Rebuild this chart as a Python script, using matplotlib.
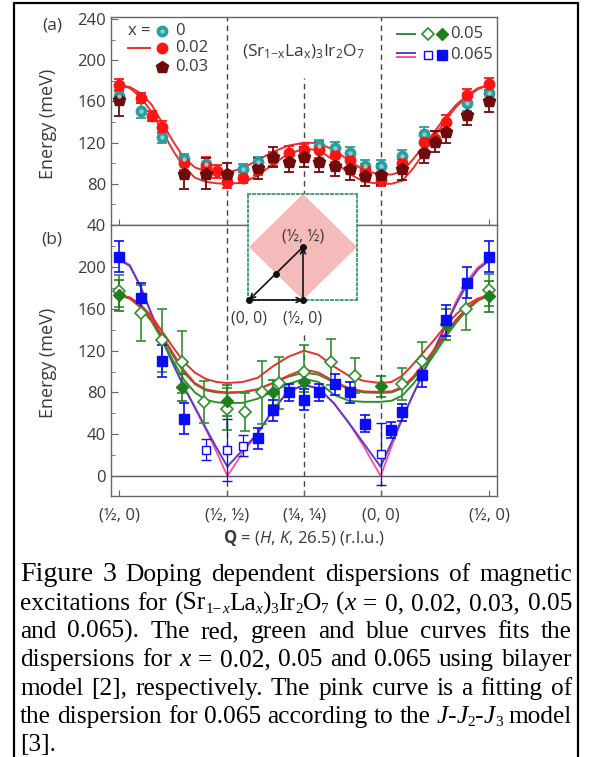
import matplotlib
matplotlib.use('Agg')
import matplotlib.pyplot as plt
from matplotlib.patches import Polygon, Rectangle

# ---------------- data ----------------
path_ticks = [0.0, 0.5, 0.854, 1.207, 1.707]
path_labels = ['(½, 0)', '(½, ½)', '(¼, ¼)', '(0, 0)', '(½, 0)']

# panel (a) measured points
q_x0 = [0, 0.1, 0.2, 0.3, 0.4, 0.571, 0.641, 0.924, 0.995, 1.066, 1.136, 1.207, 1.307, 1.407, 1.607, 1.707]
E_x0 = [165, 151, 125, 104, 99, 94, 101, 117, 115, 110, 97, 97, 107, 128, 158, 168]
err_x0 = [6, 7, 5, 5, 6, 5, 5, 6, 6, 6, 6, 6, 6, 7, 7, 6]

q_x2 = [0, 0.1, 0.15, 0.2, 0.3, 0.4, 0.45, 0.5, 0.571, 0.641, 0.712, 0.783, 0.854, 0.924, 0.995,
        1.066, 1.136, 1.207, 1.307, 1.407, 1.457, 1.507, 1.607, 1.707]
E_x2 = [176, 163, 146, 135, 100, 96, 92, 82, 86, 94, 104, 110, 113, 113, 108,
        103, 93, 84, 100, 121, 124, 140, 166, 177]
err_x2 = [6, 5, 5, 6, 7, 10, 6, 6, 5, 5, 7, 7, 6, 8, 7, 8, 6, 6, 8, 8, 7, 7, 6, 6]

q_x3 = [0, 0.3, 0.4, 0.5, 0.641, 0.712, 0.783, 0.854, 0.924, 0.995, 1.066, 1.136, 1.207, 1.307,
        1.407, 1.457, 1.507, 1.607, 1.707]
E_x3 = [161, 90, 90, 90, 95, 106, 101, 106, 101, 97.5, 94, 88, 89, 94, 110, 121, 130, 147, 160]
err_x3 = [15, 15, 15, 10, 10, 10, 10, 10, 10, 10, 10, 10, 10, 10, 10, 10, 10, 10, 10]

# fitted curves, read along the path
q_fit = [0, 0.05, 0.1, 0.15, 0.2, 0.25, 0.3, 0.35, 0.4, 0.45, 0.5, 0.57, 0.64, 0.71, 0.78, 0.854,
         0.92, 0.99, 1.06, 1.13, 1.207, 1.257, 1.307, 1.357, 1.407, 1.457, 1.507, 1.557, 1.607, 1.657, 1.707]
a_red_up = [176, 174, 168, 157, 139, 121, 105, 96, 92, 90.5, 91, 95, 103, 111, 117, 120,
            119.5, 113, 103, 93, 89, 89, 92, 104, 117, 131, 145, 157, 166, 173, 176]
a_red_lo = [176, 173, 164, 150, 131, 112, 96, 86, 82, 80.5, 80, 81, 88, 99, 109, 114,
            113, 103, 90, 82, 80, 80, 83, 95, 110, 126, 142, 155, 165, 172, 176]

# panel (b) measured points
q_b_fill = [0, 0.1, 0.2, 0.3, 0.641, 0.712, 0.783, 0.854, 0.924, 0.995, 1.066, 1.136, 1.257, 1.307,
            1.4, 1.507, 1.607, 1.707]
E_b_fill = [210, 170, 110, 55, 36, 63, 80, 73, 80, 88, 80, 50, 44, 61, 97, 149, 185, 210]
err_b_fill = [15, 15, 15, 15, 10, 10, 8, 10, 8, 10, 10, 8, 8, 8, 12, 15, 15, 15]

q_b_open = [0.4, 0.5, 0.571, 1.207]
E_b_open = [25, 25, 29, 21]
err_b_open = [10, 30, 10, 30]

q_g_fill = [0, 0.29, 0.5, 0.712, 0.854, 1.207, 1.507, 1.707]
E_g_fill = [173, 85, 72, 80, 90, 86, 145, 172]
err_g_fill = [15, 13, 15, 12, 10, 10, 15, 15]

q_g_open = [0, 0.1, 0.2, 0.29, 0.39, 0.5, 0.58, 0.66, 0.74, 0.854, 0.98, 1.09, 1.305, 1.40, 1.60, 1.707]
E_g_open = [177, 156, 130, 109, 71, 64, 61, 80, 89, 100, 109, 96, 88, 110, 160, 178]
err_g_open = [15, 27, 30, 30, 20, 20, 18, 30, 25, 25, 22, 17, 15, 18, 20, 15]

b_red_up = [173, 171, 164, 153, 138, 123, 109, 99, 93, 90, 89, 90, 94, 105, 114, 120,
            116, 105, 96, 91, 89, 90, 96, 107, 119, 131, 144, 155, 164, 170, 173]
b_red_lo = [173, 170, 162, 150, 134, 117, 101, 89, 83, 81, 80, 80.5, 83, 89, 96, 102,
            99, 91, 84, 81, 80.5, 81, 85, 95, 108, 122, 137, 150, 161, 169, 173]
b_grn_up = [173, 170, 162, 150, 133, 115, 99, 88, 82, 80, 79.5, 80, 83, 89, 95, 99,
            97, 90, 83, 80, 79.5, 80, 84, 93, 106, 120, 135, 149, 160, 168, 173]
b_grn_lo = [173, 170, 161, 148, 130, 110, 92, 80, 73, 70.5, 70, 70, 74, 81, 88, 93,
            90, 78, 72, 71, 71, 72, 77, 88, 102, 117, 133, 147, 159, 168, 173]
b_blue = [207, 201, 181, 155, 130, 107, 85, 66, 46, 27, 9, 25, 41, 63, 81, 87,
          84, 70, 51, 31, 9, 32, 55, 78, 100, 122, 144, 165, 184, 198, 206]
b_pink = [208, 202, 181, 155, 130, 107, 85, 65, 45, 23, 0, 22, 41, 63, 81, 87,
          84, 70, 51, 28, 0, 28, 55, 78, 100, 122, 144, 168, 187, 200, 207]

# ---------------- style ----------------
W, H = 591, 757
SANS = 'Open Sans'
SERIF = 'Liberation Serif'
plt.rcParams['font.family'] = [SANS, 'DejaVu Sans']
plt.rcParams['mathtext.fontset'] = 'custom'
plt.rcParams['mathtext.rm'] = SANS
plt.rcParams['mathtext.it'] = SANS + ':italic'
plt.rcParams['mathtext.bf'] = SANS + ':bold'

TXT = '#3a3a3a'
SP = '#666666'
C_RED_LINE = '#e8302a'
C_RED = '#ff1414'
C_DRED = '#6e0a0a'
C_TEAL = '#2c9c9c'
C_TEAL_HI = '#86d2d2'
C_GRN = '#2f8f2f'
C_GRNM = '#1f7f1f'
C_BLUE = '#0a0aff'
C_BLUEL = '#5a3cc8'
C_PINK = '#ff4fa0'

fig = plt.figure(figsize=(W / 100, H / 100), dpi=100)


def fx(px):
    return px / W


def fy(py):
    return 1 - py / H


ax_a = fig.add_axes([fx(111), fy(225), 386 / W, 208 / H])
ax_b = fig.add_axes([fx(111), fy(496), 386 / W, 271 / H])

for ax in (ax_a, ax_b):
    ax.set_xlim(-0.037, 1.744)
    for s in ax.spines.values():
        s.set_color(SP)
        s.set_linewidth(1.0)
    ax.set_xticks(path_ticks)
    ax.tick_params(axis='both', which='both', direction='in', colors=SP,
                   labelcolor=TXT, labelsize=12, right=False, top=False)
    ax.tick_params(axis='y', which='major', length=5)
    ax.tick_params(axis='y', which='minor', length=3)
    ax.tick_params(axis='x', length=4)

ax_a.set_ylim(40, 242)
ax_a.set_yticks([40, 80, 120, 160, 200, 240])
ax_a.set_yticks(range(60, 241, 40), minor=True)
ax_a.set_xticklabels([])

ax_b.set_ylim(-19.1, 240.2)
ax_b.set_yticks([0, 40, 80, 120, 160, 200])
ax_b.set_yticks(range(20, 240, 40), minor=True)
ax_b.set_xticklabels(path_labels)
ax_b.tick_params(axis='x', pad=8)

dash = (0, (4, 3))
for q in (0.5, 1.207):
    ax_a.axvline(q, color='#444444', lw=1.0, ls=dash, zorder=1)
    ax_b.axvline(q, color='#444444', lw=1.0, ls=dash, zorder=1)
ax_a.vlines(0.854, 40, 183, color='#444444', lw=1.0, ls=dash, zorder=1)
ax_b.vlines(0.854, -19.1, 137, color='#444444', lw=1.0, ls=dash, zorder=1)
ax_b.axhline(0, color='#555555', lw=1.0, zorder=1)

# ---- panel (a) ----
ax_a.plot(q_fit, a_red_up, color=C_RED_LINE, lw=1.4, zorder=2)
ax_a.plot(q_fit, a_red_lo, color=C_RED_LINE, lw=1.4, zorder=2)
eb = dict(capsize=3.5, elinewidth=1.3, capthick=1.3, zorder=3)
ax_a.errorbar(q_x0, E_x0, yerr=err_x0, fmt='o', color=C_TEAL, ms=7.5, **eb)
ax_a.plot(q_x0, E_x0, 'o', color=C_TEAL_HI, ms=2.2, zorder=4)
ax_a.errorbar(q_x2, E_x2, yerr=err_x2, fmt='o', color=C_RED, ms=7.5, **eb)
ax_a.errorbar(q_x3, E_x3, yerr=err_x3, fmt='p', color=C_DRED, ms=9, **eb)

# ---- panel (b) ----
ax_b.plot(q_fit, b_pink, color=C_PINK, lw=1.3, zorder=2)
ax_b.plot(q_fit, b_blue, color=C_BLUEL, lw=1.4, zorder=2)
ax_b.plot(q_fit, b_grn_up, color=C_GRN, lw=1.4, zorder=2)
ax_b.plot(q_fit, b_grn_lo, color=C_GRN, lw=1.4, zorder=2)
ax_b.plot(q_fit, b_red_up, color=C_RED_LINE, lw=1.4, zorder=2)
ax_b.plot(q_fit, b_red_lo, color=C_RED_LINE, lw=1.4, zorder=2)
eb2 = dict(capsize=3.5, elinewidth=1.2, capthick=1.2, zorder=3)
ax_b.errorbar(q_g_open, E_g_open, yerr=err_g_open, fmt='D', color=C_GRN, mfc='white',
              mec=C_GRN, mew=1.2, ms=6, **eb2)
ax_b.errorbar(q_g_fill, E_g_fill, yerr=err_g_fill, fmt='D', color=C_GRNM, ms=6.5, **eb2)
ax_b.errorbar(q_b_open, E_b_open, yerr=err_b_open, fmt='s', color=C_BLUE, mfc='white',
              mec=C_BLUE, mew=1.0, ms=6, capsize=3.5, elinewidth=0.9, capthick=0.9, zorder=3)
ax_b.errorbar(q_b_fill, E_b_fill, yerr=err_b_fill, fmt='s', color=C_BLUE, ms=7, **eb2)

# ---- axis labels ----
fig.text(fx(48), fy(124), 'Energy (meV)', rotation=90, ha='center', va='center',
         fontsize=13, color=TXT)
fig.text(fx(48), fy(363), 'Energy (meV)', rotation=90, ha='center', va='center',
         fontsize=13, color=TXT)
fig.text(fx(52), fy(26), '(a)', ha='center', va='center', fontsize=12.5, color=TXT)
fig.text(fx(52), fy(239), '(b)', ha='center', va='center', fontsize=12.5, color=TXT)
fig.text(fx(304), fy(538), r'$\mathbf{Q}$ = ($\mathit{H}$, $\mathit{K}$, 26.5) (r.l.u.)',
         ha='center', va='center', fontsize=12, color=TXT)


# ---- legend (a) ----
def ap(px, py):
    return ((px - 111) / 386, (225 - py) / 208)


T = ax_a.transAxes
kw = dict(transform=T, clip_on=False, zorder=6)
ax_a.text(*ap(128, 31), 'x =', ha='left', va='center', fontsize=12, color=TXT, transform=T)
ax_a.plot(*ap(161.7, 31), 'o', color=C_TEAL, ms=7.5, **kw)
ax_a.plot(*ap(161.7, 31), 'o', color=C_TEAL_HI, ms=2.2, **kw)
ax_a.text(*ap(175, 31), '0', ha='left', va='center', fontsize=12, color=TXT, transform=T)
x0, y0 = ap(128, 48)
x1, _ = ap(150, 48)
ax_a.plot([x0, x1], [y0, y0], color=C_RED_LINE, lw=1.4, **kw)
ax_a.plot(*ap(161.7, 48), 'o', color=C_RED, ms=7.5, **kw)
ax_a.text(*ap(175, 48), '0.02', ha='left', va='center', fontsize=12, color=TXT, transform=T)
ax_a.plot(*ap(161.7, 67), 'p', color=C_DRED, ms=9, **kw)
ax_a.text(*ap(175, 67), '0.03', ha='left', va='center', fontsize=12, color=TXT, transform=T)

x0, y0 = ap(397, 34)
x1, _ = ap(415, 34)
ax_a.plot([x0, x1], [y0, y0], color=C_GRN, lw=1.4, **kw)
ax_a.plot(*ap(428, 34), 'D', color=C_GRN, mfc='white', mew=1.2, ms=6, **kw)
ax_a.plot(*ap(441.7, 34), 'D', color=C_GRNM, ms=6.5, **kw)
ax_a.text(*ap(450, 34), '0.05', ha='left', va='center', fontsize=12, color=TXT, transform=T)
x0, y0 = ap(397, 53)
x1, y1 = ap(415, 57)
ax_a.plot([x0, x1], [y0, y0], color=C_BLUEL, lw=1.4, **kw)
ax_a.plot([x0, x1], [y1, y1], color=C_PINK, lw=1.4, **kw)
ax_a.plot(*ap(428, 55), 's', color=C_BLUE, mfc='white', mew=1.0, ms=6, **kw)
ax_a.plot(*ap(441.7, 55), 's', color=C_BLUE, ms=6.5, **kw)
ax_a.text(*ap(450, 55), '0.065', ha='left', va='center', fontsize=12, color=TXT, transform=T)
ax_a.text(*ap(303, 52), r'(Sr$_{\mathrm{1{-}x}}$La$_{\mathrm{x}}$)$_{3}$Ir$_{2}$O$_{7}$',
          ha='center', va='center', fontsize=12.5, color=TXT, transform=T)

# ---- inset: Brillouin zone ----
ins = fig.add_axes([fx(248), fy(300), 109 / W, 106 / H], zorder=10)
ins.set_xlim(-0.009, 1.0)
ins.set_ylim(0.0, 1.0)
ins.set_xticks([])
ins.set_yticks([])
ins.set_facecolor('white')
for s in ins.spines.values():
    s.set_color('#3a9a6a')
    s.set_linestyle((0, (1.2, 1.5)))
    s.set_linewidth(1.3)
ins.add_patch(Polygon([(0.5, 0), (1, 0.5), (0.5, 1), (0, 0.5)], closed=True,
                      fc='#f5baba', ec='none'))
arr = dict(arrowstyle='->', color='#111111', lw=1.2, shrinkA=0, shrinkB=0, mutation_scale=9)
ins.annotate('', xy=(0, 0), xytext=(0.5, 0.5), arrowprops=arr)
ins.annotate('', xy=(0.5, 0), xytext=(0, 0), arrowprops=arr)
ins.annotate('', xy=(0.5, 0.5), xytext=(0.5, 0), arrowprops=arr)
ins.plot([0, 0.5, 0.5, 0.25], [0, 0, 0.5, 0.25], 'o', color='#111111', ms=4, clip_on=False, zorder=5)
ins.text(0.5, 0.6, '(½, ½)', ha='center', va='center', fontsize=11.5, color=TXT)
ins.text(0.0, -0.17, '(0, 0)', ha='center', va='center', fontsize=11.5, color=TXT, clip_on=False)
ins.text(0.5, -0.17, '(½, 0)', ha='center', va='center', fontsize=11.5, color=TXT, clip_on=False)

# ---- outer frame ----
fig.add_artist(Rectangle((fx(14), fy(770)), (578 - 14) / W, (770 - 3) / H,
                         transform=fig.transFigure, fill=False, ec='black', lw=1.6))

# ---- caption (justified) ----
FS = 18.3
SUB = 0.6
cap_lines = [
    [[('Figure', 'b')], [('3', 'b')], [('Doping', 'n')], [('dependent', 'n')], [('dispersions', 'n')],
     [('of', 'n')], [('magnetic', 'n')]],
    [[('excitations', 'n')], [('for', 'n')],
     [('(Sr', 'n'), ('1−', 's'), ('x', 'si'), ('La', 'n'), ('x', 'si'), (')', 'n'), ('3', 's'),
      ('Ir', 'n'), ('2', 's'), ('O', 'n'), ('7', 's')],
     [('(', 'n'), ('x', 'i')], [('=', 'n')], [('0,', 'n')], [('0.02,', 'n')], [('0.03,', 'n')],
     [('0.05', 'n')]],
    [[(w, 'n')] for w in 'and 0.065). The red, green and blue curves fits the'.split()],
    [[('dispersions', 'n')], [('for', 'n')], [('x', 'i')]] +
    [[(w, 'n')] for w in '= 0.02, 0.05 and 0.065 using bilayer'.split()],
    [[(w, 'n')] for w in 'model [2], respectively. The pink curve is a fitting of'.split()],
    [[(w, 'n')] for w in 'the dispersion for 0.065 according to the'.split()] +
    [[('J', 'i'), ('-', 'n'), ('J', 'i'), ('2', 's'), ('-', 'n'), ('J', 'i'), ('3', 's')], [('model', 'n')]],
    [[('[3].', 'n')]],
]
baselines = [581, 610, 638, 666, 695, 723, 751]
L, R = 20, 572
renderer = fig.canvas.get_renderer()


def make_run(s, kind):
    size = FS
    style = 'normal'
    if kind == 'b':
        size = FS * 1.1
    if kind in ('s', 'si'):
        size = FS * SUB
    if kind in ('i', 'si'):
        style = 'italic'
    t = fig.text(0, 0, s, fontsize=size, family=SERIF, style=style, ha='left',
                 va='baseline', color='black')
    dy = 3 if kind in ('s', 'si') else 0
    return t, dy


tmp = fig.text(0, 0, 'a a', fontsize=FS, family=SERIF)
tmp2 = fig.text(0, 0, 'aa', fontsize=FS, family=SERIF)
space_w = tmp.get_window_extent(renderer).width - tmp2.get_window_extent(renderer).width
tmp.remove()
tmp2.remove()

for li, (words, base) in enumerate(zip(cap_lines, baselines)):
    objs = []
    widths = []
    for word in words:
        runs = [make_run(s, k) for s, k in word]
        ws = [r[0].get_window_extent(renderer).width for r in runs]
        objs.append((runs, ws))
        widths.append(sum(ws))
    if li < len(cap_lines) - 1 and len(words) > 1:
        gap = max((R - L - sum(widths)) / (len(words) - 1), 2.0)
    else:
        gap = space_w
    x = L
    for (runs, ws) in objs:
        for (t, dy), w in zip(runs, ws):
            t.set_position((fx(x), fy(base + dy)))
            x += w
        x += gap

fig.savefig('out.png', dpi=100)
